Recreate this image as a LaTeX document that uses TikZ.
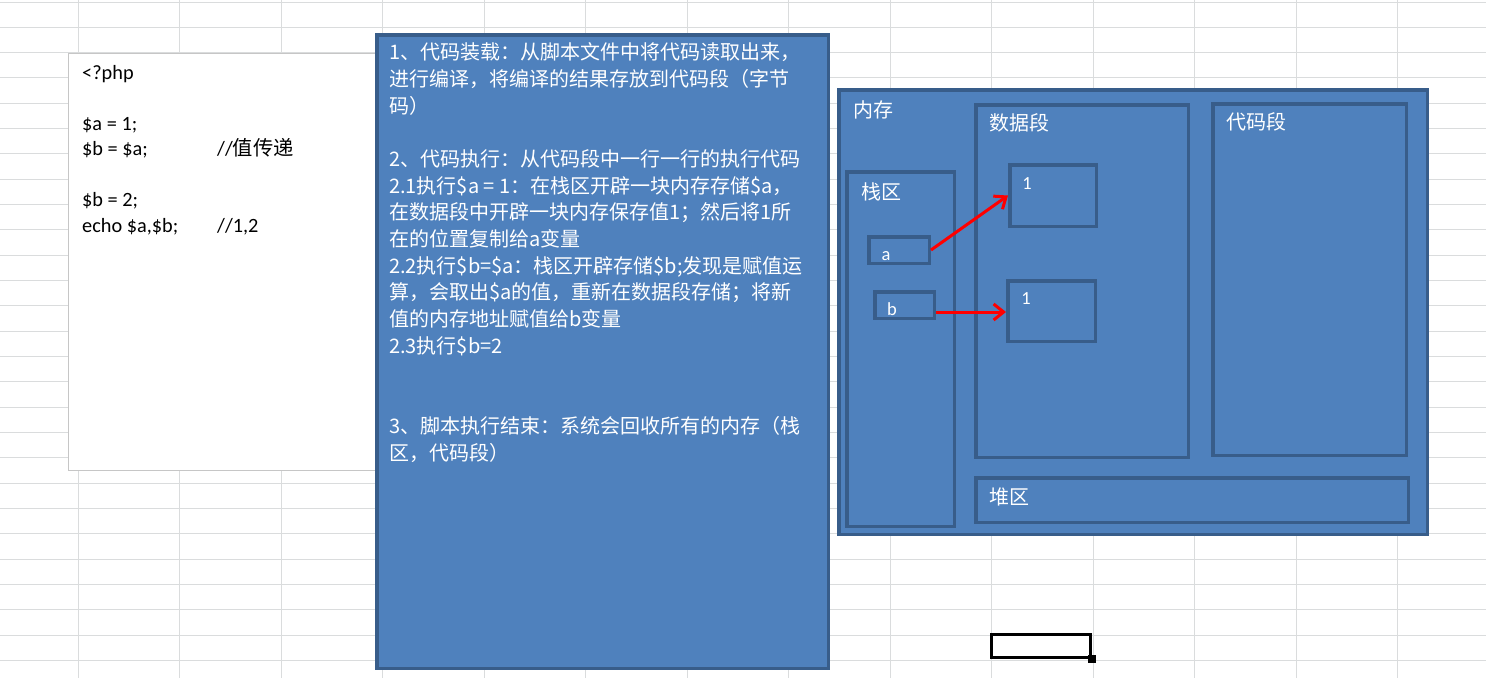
\documentclass[tikz,border=0pt]{standalone}
\usepackage{fontspec}
\setmainfont{Carlito}
\newfontfamily\cjk{Noto Sans CJK SC}
\usetikzlibrary{arrows.meta}
\definecolor{bleu}{HTML}{4F81BD}
\definecolor{bleufonce}{HTML}{385D8A}
\definecolor{grille}{HTML}{DADCDD}
\definecolor{rouge}{HTML}{FF0000}
\tikzset{
  zone/.style={draw=bleufonce, fill=bleu, line width=3.5pt, inner sep=0pt, anchor=north west},
  titre/.style={text=white, font=\cjk\fontsize{20}{24}\selectfont, inner sep=0pt, anchor=west},
  var/.style={text=white, font=\fontsize{18.5}{22}\selectfont, inner sep=0pt},
  fleche/.style={draw=rouge, line width=3pt, -{Straight Barb[length=10pt,width=16pt]}}
}

\begin{document}
\begin{tikzpicture}[x=1pt,y=-1pt]
        \useasboundingbox (0,0) rectangle (1486,678);
        \fill[white] (0,0) rectangle (1486,678);

        % Grille du tableur
        \foreach \i in {0,...,13}
          \draw[grille, line width=1pt] ({78+101.5*\i},0) -- ({78+101.5*\i},678);
        \foreach \j in {0,...,26}
          \draw[grille, line width=1pt] (0,{2+25.33*\j}) -- (1486,{2+25.33*\j});

        % Code PHP
        \node[draw=gray!45, fill=white, minimum width=312pt, minimum height=417pt,
              anchor=north west, inner sep=0pt] (code) at (68,53) {};
        \node[anchor=north west, align=left, inner sep=0pt,
              font=\fontsize{20.3}{25.5}\selectfont] (php) at (82,65) {%
          <?php\\
          ~\\
          \$a = 1;\\
          \makebox[135pt][l]{\$b = \$a;}//{\cjk 值传递}\\
          ~\\
          \$b = 2;\\
          \makebox[135pt][l]{echo \$a,\$b;}//1,2};

        % Etapes d'execution
        \node[zone, minimum width=451.5pt, minimum height=633.5pt] (etapes) at (375,33) {};
        \node[anchor=north west, align=left, inner sep=0pt, text=white,
              font=\cjk\fontsize{20}{26.7}\selectfont] (etapesT) at (389,42.5) {%
          1、代码装载：从脚本文件中将代码读取出来，\\
          进行编译，将编译的结果存放到代码段（字节\\
          码）\\
          ~\\
          2、代码执行：从代码段中一行一行的执行代码\\
          2.1执行\$a = 1：在栈区开辟一块内存存储\$a，\\
          在数据段中开辟一块内存保存值1；然后将1所\\
          在的位置复制给a变量\\
          2.2执行\$b=\$a：栈区开辟存储\$b;发现是赋值运\\
          算，会取出\$a的值，重新在数据段存储；将新\\
          值的内存地址赋值给b变量\\
          2.3执行\$b=2\\
          ~\\
          ~\\
          3、脚本执行结束：系统会回收所有的内存（栈\\
          区，代码段）};

        % Memoire
        \node[zone, minimum width=588.5pt, minimum height=444.5pt] (memoire) at (837,88) {};
        \node[titre] (memoireT) at (853,110) {内存};
        \node[zone, minimum width=107.5pt, minimum height=354.5pt] (pile) at (845,170) {};
        \node[titre] (pileT) at (861,192) {栈区};
        \node[zone, minimum width=212.5pt, minimum height=352.5pt] (donnees) at (974,103) {};
        \node[titre] (donneesT) at (989,123) {数据段};
        \node[zone, minimum width=193.5pt, minimum height=351.5pt] (segcode) at (1211,102) {};
        \node[titre] (segcodeT) at (1226,122) {代码段};
        \node[zone, minimum width=432.5pt, minimum height=44.5pt] (tas) at (974,476) {};
        \node[titre] (tasT) at (989,497) {堆区};

        % Variables et valeurs
        \node[zone, minimum width=60.5pt, minimum height=26.5pt] (a) at (867,235) {};
        \node[var] (aT) at (886,256) {a};
        \node[zone, minimum width=59.5pt, minimum height=26.5pt] (b) at (873,290) {};
        \node[var] (bT) at (892,309) {b};
        \node[zone, minimum width=86.5pt, minimum height=61.5pt] (va) at (1008,163) {};
        \node[var] (vaT) at (1027,184) {1};
        \node[zone, minimum width=87.5pt, minimum height=60.5pt] (vb) at (1006,279) {};
        \node[var] (vbT) at (1026,299) {1};

        % Fleches
        \draw[fleche] (a.east) -- (va.west);
        \draw[fleche] ([yshift=-7pt]b.east) -- ([yshift=-7pt]b.east -| vb.west);

        % Cellule active
        \node[draw=black, line width=3pt, minimum width=99pt, minimum height=23pt,
              anchor=north west, inner sep=0pt] (cellule) at (990,633) {};
        \fill[black] ([xshift=-4pt,yshift=-4pt]cellule.south east) rectangle ([xshift=4pt,yshift=4pt]cellule.south east);
      \end{tikzpicture}
\end{document}
